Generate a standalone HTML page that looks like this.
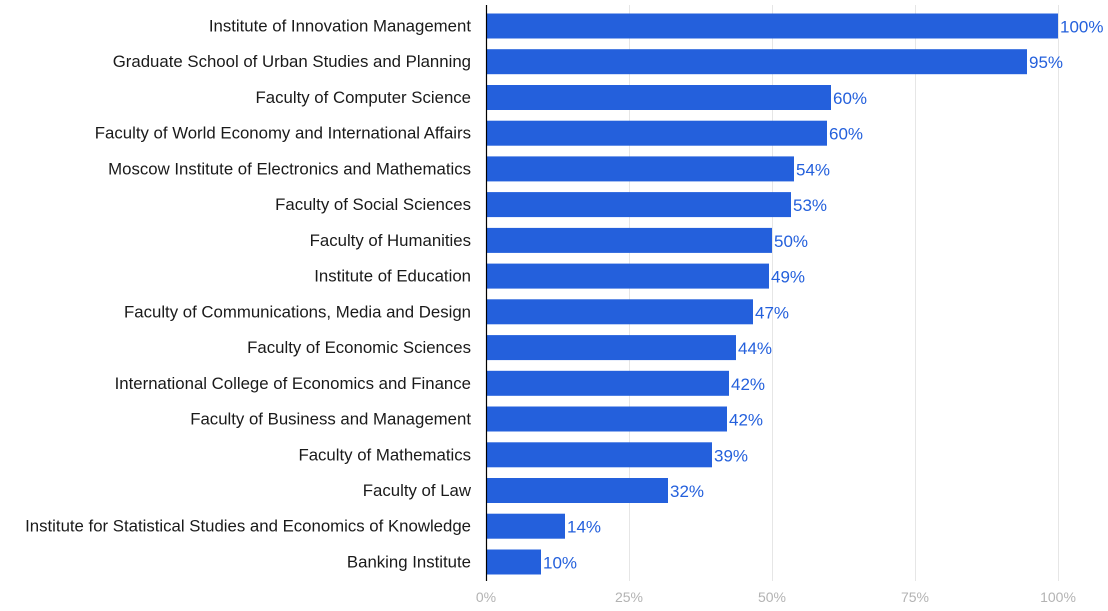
<!DOCTYPE html><html><head><style>body{margin:0;background:#fff}</style></head><body>
<svg width="1108" height="606" xmlns="http://www.w3.org/2000/svg" font-family="Liberation Sans, sans-serif">
<g stroke="#e6e6e6" stroke-width="1">
<line x1="629.5" y1="5" x2="629.5" y2="581"/><line x1="772.5" y1="5" x2="772.5" y2="581"/><line x1="915.5" y1="5" x2="915.5" y2="581"/><line x1="1058.5" y1="5" x2="1058.5" y2="581"/></g>
<g font-size="14" fill="#b3b3b3" text-anchor="middle">
<text x="486" y="602">0%</text><text x="629" y="602">25%</text><text x="772" y="602">50%</text><text x="915" y="602">75%</text><text x="1058" y="602">100%</text></g>
<g fill="#2460dc">
<rect x="487" y="13.5" width="571" height="25"/>
<rect x="487" y="49.2" width="540" height="25"/>
<rect x="487" y="85" width="344" height="25"/>
<rect x="487" y="120.7" width="340" height="25"/>
<rect x="487" y="156.4" width="307" height="25"/>
<rect x="487" y="192.1" width="304" height="25"/>
<rect x="487" y="227.9" width="285" height="25"/>
<rect x="487" y="263.6" width="282" height="25"/>
<rect x="487" y="299.3" width="266" height="25"/>
<rect x="487" y="335.1" width="249" height="25"/>
<rect x="487" y="370.8" width="242" height="25"/>
<rect x="487" y="406.5" width="240" height="25"/>
<rect x="487" y="442.3" width="225" height="25"/>
<rect x="487" y="478" width="181" height="25"/>
<rect x="487" y="513.7" width="78" height="25"/>
<rect x="487" y="549.5" width="54" height="25"/>
</g>
<g font-size="16.8" fill="#1a1a1a" text-anchor="end">
<text x="471" y="31.5">Institute of Innovation Management</text>
<text x="471" y="67.2">Graduate School of Urban Studies and Planning</text>
<text x="471" y="103">Faculty of Computer Science</text>
<text x="471" y="138.7">Faculty of World Economy and International Affairs</text>
<text x="471" y="174.4">Moscow Institute of Electronics and Mathematics</text>
<text x="471" y="210.1">Faculty of Social Sciences</text>
<text x="471" y="245.9">Faculty of Humanities</text>
<text x="471" y="281.6">Institute of Education</text>
<text x="471" y="317.3">Faculty of Communications, Media and Design</text>
<text x="471" y="353.1">Faculty of Economic Sciences</text>
<text x="471" y="388.8">International College of Economics and Finance</text>
<text x="471" y="424.5">Faculty of Business and Management</text>
<text x="471" y="460.3">Faculty of Mathematics</text>
<text x="471" y="496">Faculty of Law</text>
<text x="471" y="531.7">Institute for Statistical Studies and Economics of Knowledge</text>
<text x="471" y="567.5">Banking Institute</text>
</g>
<g font-size="17" fill="#2460dc">
<text x="1060" y="32.5">100%</text>
<text x="1029" y="68.2">95%</text>
<text x="833" y="104">60%</text>
<text x="829" y="139.7">60%</text>
<text x="796" y="175.4">54%</text>
<text x="793" y="211.1">53%</text>
<text x="774" y="246.9">50%</text>
<text x="771" y="282.6">49%</text>
<text x="755" y="318.3">47%</text>
<text x="738" y="354.1">44%</text>
<text x="731" y="389.8">42%</text>
<text x="729" y="425.5">42%</text>
<text x="714" y="461.3">39%</text>
<text x="670" y="497">32%</text>
<text x="567" y="532.7">14%</text>
<text x="543" y="568.5">10%</text>
</g>
<line x1="486.5" y1="5" x2="486.5" y2="581" stroke="#000" stroke-width="1.2"/>
</svg></body></html>
